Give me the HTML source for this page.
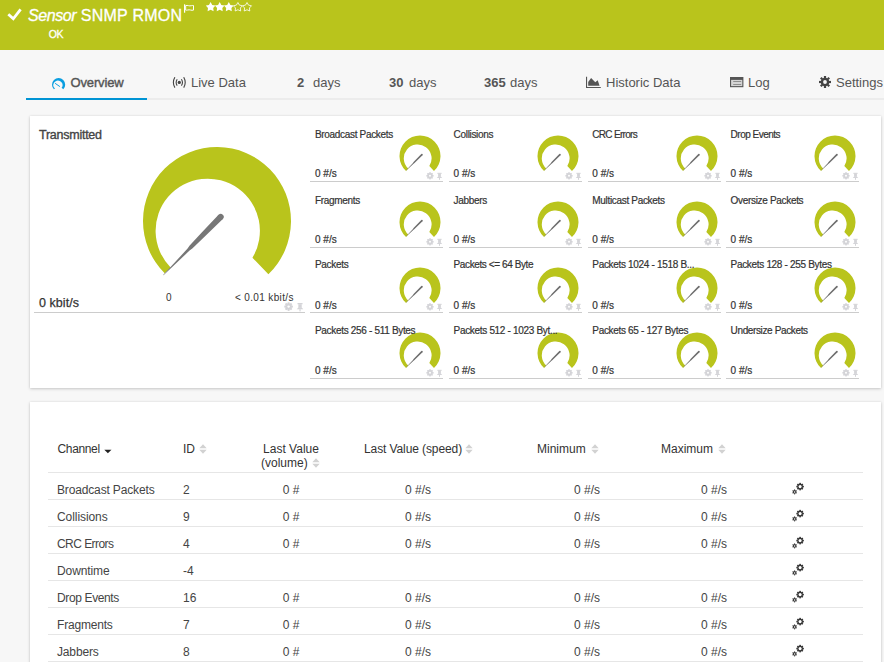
<!DOCTYPE html>
<html><head><meta charset="utf-8"><style>
*{margin:0;padding:0;box-sizing:border-box}
html,body{width:884px;height:662px;overflow:hidden;background:#f7f7f7;font-family:"Liberation Sans",sans-serif;position:relative}
.a{position:absolute;white-space:nowrap}
#hdr{position:absolute;left:0;top:0;width:884px;height:50px;background:#b9c41c}
.tab{position:absolute;top:75px;font-size:13px;color:#555;white-space:nowrap;line-height:16px}
.panel{position:absolute;left:30px;width:851px;background:#fff;box-shadow:0 1px 3px rgba(0,0,0,.18),0 0 2px rgba(0,0,0,.08)}
.tl{position:absolute;z-index:2;font-size:10px;color:#333;-webkit-text-stroke:0.2px #333;white-space:nowrap;line-height:12px;letter-spacing:-0.25px}
.tv{position:absolute;font-size:10px;color:#333;-webkit-text-stroke:0.2px #333;white-space:nowrap;line-height:12px}
.ul{position:absolute;height:1px;background:#ccc}
.ul2{position:absolute;left:48px;width:815px;height:1px;background:#e6e6e6}
.td{position:absolute;font-size:12px;color:#444;white-space:nowrap;line-height:14px}
.td.c{text-align:center}
.td.r{text-align:right}
.th{position:absolute;font-size:12px;color:#333;white-space:nowrap;line-height:14px}
</style></head><body>
<div id="hdr">
 <svg class="a" style="left:7px;top:7px" width="16" height="15" viewBox="0 0 16 15"><path d="M1.3 7.2L6.3 11.8L13.6 2.3" fill="none" stroke="#fff" stroke-width="2.8"/></svg>
 <div class="a" style="left:28px;top:5.7px;font-size:16px;color:#fff;line-height:20px;-webkit-text-stroke:0.3px #fff"><i style="letter-spacing:-0.4px">Sensor</i> <span style="letter-spacing:0.25px">SNMP RMON</span></div>
 <svg class="a" style="left:183px;top:3px" width="13" height="11" viewBox="0 0 13 11"><rect x="1" y="1.3" width="1.2" height="8.4" fill="#fff"/><path d="M2.7 2.6C4.6 1.9 6.4 3.4 8.3 2.7C9.5 2.3 10.5 2.5 10.5 2.5V7.1C8.6 7.8 6.6 6.3 4.7 7C3.6 7.4 2.7 7.1 2.7 7.1Z" fill="none" stroke="#fff" stroke-width="1"/></svg>
 <svg class="a" style="left:206px;top:2.1px" width="47" height="11" viewBox="0 0 47 11"><g transform="translate(0.0 0)"><polygon points="4.60,0.00 6.22,2.88 9.45,3.52 7.22,5.95 7.60,9.23 4.60,7.85 1.60,9.23 1.98,5.95 -0.25,3.52 2.98,2.88" fill="#fff"/></g><g transform="translate(9.1 0)"><polygon points="4.60,0.00 6.22,2.88 9.45,3.52 7.22,5.95 7.60,9.23 4.60,7.85 1.60,9.23 1.98,5.95 -0.25,3.52 2.98,2.88" fill="#fff"/></g><g transform="translate(18.2 0)"><polygon points="4.60,0.00 6.22,2.88 9.45,3.52 7.22,5.95 7.60,9.23 4.60,7.85 1.60,9.23 1.98,5.95 -0.25,3.52 2.98,2.88" fill="#fff"/></g><g transform="translate(27.299999999999997 0)"><polygon points="4.60,0.50 6.10,3.14 9.07,3.75 7.03,5.99 7.36,9.00 4.60,7.75 1.84,9.00 2.17,5.99 0.13,3.75 3.10,3.14" fill="none" stroke="#fff" stroke-width="0.8" stroke-linejoin="round"/></g><g transform="translate(36.4 0)"><polygon points="4.60,0.50 6.10,3.14 9.07,3.75 7.03,5.99 7.36,9.00 4.60,7.75 1.84,9.00 2.17,5.99 0.13,3.75 3.10,3.14" fill="none" stroke="#fff" stroke-width="0.8" stroke-linejoin="round"/></g></svg>
 <div class="a" style="left:48.7px;top:28.3px;font-size:10.5px;color:#fff;-webkit-text-stroke:0.3px #fff;line-height:12px;letter-spacing:-0.3px">OK</div>
</div>
<div class="a" style="left:26px;top:98px;width:858px;height:2px;background:#ececec"></div>
<div class="a" style="left:26px;top:98px;width:121px;height:2px;background:#0094d4"></div>
<svg class="a" style="left:52.3px;top:77.9px" width="14" height="12" viewBox="0 0 14 12"><path d="M1.9 11.3A6.6 6.6 0 1 1 11.3 11.3L9.6 9.8A4.5 4.5 0 1 0 3 10.6Z" fill="#0a9ee0"/><path d="M3.1 5.3L7.9 8.6" stroke="#0a9ee0" stroke-width="1"/></svg>
<div class="tab" style="left:70.5px;-webkit-text-stroke:0.4px #555;letter-spacing:-0.15px">Overview</div>
<svg class="a" style="left:172px;top:76.7px" width="15" height="12" viewBox="0 0 15 12"><circle cx="7.3" cy="5.4" r="1.6" fill="#444"/><path d="M5.2 2.2A5.8 5.8 0 0 0 5.2 8.6M9.4 2.2A5.8 5.8 0 0 1 9.4 8.6M2.9 0.2A10.3 10.3 0 0 0 2.9 10.6M11.7 0.2A10.3 10.3 0 0 1 11.7 10.6" fill="none" stroke="#444" stroke-width="1.1"/></svg>
<div class="tab" style="left:191px">Live Data</div>
<div class="tab" style="left:297px"><b>2</b></div><div class="tab" style="left:313px">days</div>
<div class="tab" style="left:389px"><b>30</b></div><div class="tab" style="left:409px">days</div>
<div class="tab" style="left:484px"><b>365</b></div><div class="tab" style="left:510px">days</div>
<svg class="a" style="left:586px;top:76px" width="15" height="12" viewBox="0 0 15 12"><path d="M0 0.8H1.1V10.9H14.8V11.9H0Z" fill="#555"/><path d="M2.2 9.8L2.2 5.9L5.1 2L9.3 6.3L11.7 4.2L13.6 9.8Z" fill="#555"/></svg>
<div class="tab" style="left:606px">Historic Data</div>
<svg class="a" style="left:730px;top:76.8px" width="14" height="11" viewBox="0 0 14 11"><rect x="0" y="0" width="13.4" height="10.2" fill="#555"/><rect x="1.1" y="2.9" width="11.2" height="6.2" fill="#d4d4d4"/><path d="M3.2 4.2H11.2V5H3.2ZM3.2 6.9H11.2V7.7H3.2Z" fill="#777"/></svg>
<div class="tab" style="left:748px">Log</div>
<svg class="a" style="left:819px;top:76px" width="12" height="12" viewBox="0 0 12 12"><g transform="translate(6 6)" fill="#444"><rect x="-1.1" y="-6" width="2.2" height="2.2" transform="rotate(0)"/><rect x="-1.1" y="-6" width="2.2" height="2.2" transform="rotate(45)"/><rect x="-1.1" y="-6" width="2.2" height="2.2" transform="rotate(90)"/><rect x="-1.1" y="-6" width="2.2" height="2.2" transform="rotate(135)"/><rect x="-1.1" y="-6" width="2.2" height="2.2" transform="rotate(180)"/><rect x="-1.1" y="-6" width="2.2" height="2.2" transform="rotate(225)"/><rect x="-1.1" y="-6" width="2.2" height="2.2" transform="rotate(270)"/><rect x="-1.1" y="-6" width="2.2" height="2.2" transform="rotate(315)"/><circle r="4.3"/><circle r="1.9" fill="#f7f7f7"/></g></svg>
<div class="tab" style="left:836px">Settings</div>

<div class="panel" style="top:116px;height:272px"></div>
<div class="a" style="left:39px;top:127.5px;font-size:12.5px;-webkit-text-stroke:0.35px #444;color:#444;line-height:14px;letter-spacing:-0.25px">Transmitted</div>
<svg style="position:absolute;left:136.60px;top:140.60px;width:160.00px;height:140.00px" viewBox="-80 -80 160 140"><path d="M-52.33 52.33A74.0 74.0 0 1 1 51.40 53.23L35.45 36.71A52.15 52.15 0 1 0 -46.42 46.42Z" fill="#b9c41c"/><g transform="translate(3.7 -4.1) rotate(134.55)"><circle cx="0" cy="0" r="3" fill="#777"/><path d="M0 -3L24.5 -2.5L42.5 -2.0L45.8 -1.4L81.8 -0.25L81.8 0.25L45.8 1.4L42.5 2.0L24.5 2.5L0 3Z" fill="#777"/></g></svg>
<div class="a" style="left:39px;top:294.8px;font-size:12.5px;letter-spacing:0.05px;-webkit-text-stroke:0.25px #333;color:#333;line-height:16px">0 kbit/s</div>
<div class="a" style="left:166px;top:291.6px;font-size:10px;color:#333;line-height:12px">0</div>
<div class="a" style="left:235px;top:291.6px;font-size:10px;color:#333;line-height:12px;letter-spacing:0.35px">&lt; 0.01 kbit/s</div>
<div class="ul" style="left:34px;top:312px;width:271px"></div>
<div class="tl" style="left:315px;top:128.7px;letter-spacing:-0.32px">Broadcast Packets</div><div class="tv" style="left:315px;top:167.5px">0 #/s</div><svg style="position:absolute;left:397.50px;top:134.10px;width:44px;height:40px" viewBox="-22 -22 44 40"><path d="M-13.98 14.99A20.5 20.5 0 1 1 13.98 14.99L9.33 10.01A13.9 13.9 0 1 0 -11.75 12.60Z" fill="#b9c41c"/><g transform="translate(1.9 -1.3) rotate(135.00)"><circle r="0.85" fill="#6e6e6e"/><path d="M0 -0.85L11.10 -0.7L12.21 -0.45L22.20 -0.1L22.20 0.1L12.21 0.45L11.10 0.7L0 0.85Z" fill="#6e6e6e"/></g></svg><div class="ul" style="left:310px;top:181px;width:133.3px"></div><div class="tl" style="left:453.6px;top:128.7px;letter-spacing:-0.32px">Collisions</div><div class="tv" style="left:453.6px;top:167.5px">0 #/s</div><svg style="position:absolute;left:536.20px;top:134.10px;width:44px;height:40px" viewBox="-22 -22 44 40"><path d="M-13.98 14.99A20.5 20.5 0 1 1 13.98 14.99L9.33 10.01A13.9 13.9 0 1 0 -11.75 12.60Z" fill="#b9c41c"/><g transform="translate(1.9 -1.3) rotate(135.00)"><circle r="0.85" fill="#6e6e6e"/><path d="M0 -0.85L11.10 -0.7L12.21 -0.45L22.20 -0.1L22.20 0.1L12.21 0.45L11.10 0.7L0 0.85Z" fill="#6e6e6e"/></g></svg><div class="ul" style="left:449px;top:181px;width:133.3px"></div><div class="tl" style="left:592.3px;top:128.7px;letter-spacing:-0.7px">CRC Errors</div><div class="tv" style="left:592.3px;top:167.5px">0 #/s</div><svg style="position:absolute;left:674.80px;top:134.10px;width:44px;height:40px" viewBox="-22 -22 44 40"><path d="M-13.98 14.99A20.5 20.5 0 1 1 13.98 14.99L9.33 10.01A13.9 13.9 0 1 0 -11.75 12.60Z" fill="#b9c41c"/><g transform="translate(1.9 -1.3) rotate(135.00)"><circle r="0.85" fill="#6e6e6e"/><path d="M0 -0.85L11.10 -0.7L12.21 -0.45L22.20 -0.1L22.20 0.1L12.21 0.45L11.10 0.7L0 0.85Z" fill="#6e6e6e"/></g></svg><div class="ul" style="left:588px;top:181px;width:133.3px"></div><div class="tl" style="left:730.6px;top:128.7px;letter-spacing:-0.5px">Drop Events</div><div class="tv" style="left:730.6px;top:167.5px">0 #/s</div><svg style="position:absolute;left:812.80px;top:134.10px;width:44px;height:40px" viewBox="-22 -22 44 40"><path d="M-13.98 14.99A20.5 20.5 0 1 1 13.98 14.99L9.33 10.01A13.9 13.9 0 1 0 -11.75 12.60Z" fill="#b9c41c"/><g transform="translate(1.9 -1.3) rotate(135.00)"><circle r="0.85" fill="#6e6e6e"/><path d="M0 -0.85L11.10 -0.7L12.21 -0.45L22.20 -0.1L22.20 0.1L12.21 0.45L11.10 0.7L0 0.85Z" fill="#6e6e6e"/></g></svg><div class="ul" style="left:726px;top:181px;width:133.3px"></div><div class="tl" style="left:315px;top:194.5px;letter-spacing:-0.32px">Fragments</div><div class="tv" style="left:315px;top:233.8px">0 #/s</div><svg style="position:absolute;left:397.50px;top:200.10px;width:44px;height:40px" viewBox="-22 -22 44 40"><path d="M-13.98 14.99A20.5 20.5 0 1 1 13.98 14.99L9.33 10.01A13.9 13.9 0 1 0 -11.75 12.60Z" fill="#b9c41c"/><g transform="translate(1.9 -1.3) rotate(135.00)"><circle r="0.85" fill="#6e6e6e"/><path d="M0 -0.85L11.10 -0.7L12.21 -0.45L22.20 -0.1L22.20 0.1L12.21 0.45L11.10 0.7L0 0.85Z" fill="#6e6e6e"/></g></svg><div class="ul" style="left:310px;top:247px;width:133.3px"></div><div class="tl" style="left:453.6px;top:194.5px;letter-spacing:-0.32px">Jabbers</div><div class="tv" style="left:453.6px;top:233.8px">0 #/s</div><svg style="position:absolute;left:536.20px;top:200.10px;width:44px;height:40px" viewBox="-22 -22 44 40"><path d="M-13.98 14.99A20.5 20.5 0 1 1 13.98 14.99L9.33 10.01A13.9 13.9 0 1 0 -11.75 12.60Z" fill="#b9c41c"/><g transform="translate(1.9 -1.3) rotate(135.00)"><circle r="0.85" fill="#6e6e6e"/><path d="M0 -0.85L11.10 -0.7L12.21 -0.45L22.20 -0.1L22.20 0.1L12.21 0.45L11.10 0.7L0 0.85Z" fill="#6e6e6e"/></g></svg><div class="ul" style="left:449px;top:247px;width:133.3px"></div><div class="tl" style="left:592.3px;top:194.5px;letter-spacing:-0.32px">Multicast Packets</div><div class="tv" style="left:592.3px;top:233.8px">0 #/s</div><svg style="position:absolute;left:674.80px;top:200.10px;width:44px;height:40px" viewBox="-22 -22 44 40"><path d="M-13.98 14.99A20.5 20.5 0 1 1 13.98 14.99L9.33 10.01A13.9 13.9 0 1 0 -11.75 12.60Z" fill="#b9c41c"/><g transform="translate(1.9 -1.3) rotate(135.00)"><circle r="0.85" fill="#6e6e6e"/><path d="M0 -0.85L11.10 -0.7L12.21 -0.45L22.20 -0.1L22.20 0.1L12.21 0.45L11.10 0.7L0 0.85Z" fill="#6e6e6e"/></g></svg><div class="ul" style="left:588px;top:247px;width:133.3px"></div><div class="tl" style="left:730.6px;top:194.5px;letter-spacing:-0.32px">Oversize Packets</div><div class="tv" style="left:730.6px;top:233.8px">0 #/s</div><svg style="position:absolute;left:812.80px;top:200.10px;width:44px;height:40px" viewBox="-22 -22 44 40"><path d="M-13.98 14.99A20.5 20.5 0 1 1 13.98 14.99L9.33 10.01A13.9 13.9 0 1 0 -11.75 12.60Z" fill="#b9c41c"/><g transform="translate(1.9 -1.3) rotate(135.00)"><circle r="0.85" fill="#6e6e6e"/><path d="M0 -0.85L11.10 -0.7L12.21 -0.45L22.20 -0.1L22.20 0.1L12.21 0.45L11.10 0.7L0 0.85Z" fill="#6e6e6e"/></g></svg><div class="ul" style="left:726px;top:247px;width:133.3px"></div><div class="tl" style="left:315px;top:259.3px;letter-spacing:-0.32px">Packets</div><div class="tv" style="left:315px;top:299.9px">0 #/s</div><svg style="position:absolute;left:397.50px;top:266.00px;width:44px;height:40px" viewBox="-22 -22 44 40"><path d="M-13.98 14.99A20.5 20.5 0 1 1 13.98 14.99L9.33 10.01A13.9 13.9 0 1 0 -11.75 12.60Z" fill="#b9c41c"/><g transform="translate(1.9 -1.3) rotate(135.00)"><circle r="0.85" fill="#6e6e6e"/><path d="M0 -0.85L11.10 -0.7L12.21 -0.45L22.20 -0.1L22.20 0.1L12.21 0.45L11.10 0.7L0 0.85Z" fill="#6e6e6e"/></g></svg><div class="ul" style="left:310px;top:312px;width:133.3px"></div><div class="tl" style="left:453.6px;top:259.3px;letter-spacing:-0.4px">Packets &lt;= 64 Byte</div><div class="tv" style="left:453.6px;top:299.9px">0 #/s</div><svg style="position:absolute;left:536.20px;top:266.00px;width:44px;height:40px" viewBox="-22 -22 44 40"><path d="M-13.98 14.99A20.5 20.5 0 1 1 13.98 14.99L9.33 10.01A13.9 13.9 0 1 0 -11.75 12.60Z" fill="#b9c41c"/><g transform="translate(1.9 -1.3) rotate(135.00)"><circle r="0.85" fill="#6e6e6e"/><path d="M0 -0.85L11.10 -0.7L12.21 -0.45L22.20 -0.1L22.20 0.1L12.21 0.45L11.10 0.7L0 0.85Z" fill="#6e6e6e"/></g></svg><div class="ul" style="left:449px;top:312px;width:133.3px"></div><div class="tl" style="left:592.3px;top:259.3px;letter-spacing:-0.32px">Packets 1024 - 1518 B...</div><div class="tv" style="left:592.3px;top:299.9px">0 #/s</div><svg style="position:absolute;left:674.80px;top:266.00px;width:44px;height:40px" viewBox="-22 -22 44 40"><path d="M-13.98 14.99A20.5 20.5 0 1 1 13.98 14.99L9.33 10.01A13.9 13.9 0 1 0 -11.75 12.60Z" fill="#b9c41c"/><g transform="translate(1.9 -1.3) rotate(135.00)"><circle r="0.85" fill="#6e6e6e"/><path d="M0 -0.85L11.10 -0.7L12.21 -0.45L22.20 -0.1L22.20 0.1L12.21 0.45L11.10 0.7L0 0.85Z" fill="#6e6e6e"/></g></svg><div class="ul" style="left:588px;top:312px;width:133.3px"></div><div class="tl" style="left:730.6px;top:259.3px;letter-spacing:-0.32px">Packets 128 - 255 Bytes</div><div class="tv" style="left:730.6px;top:299.9px">0 #/s</div><svg style="position:absolute;left:812.80px;top:266.00px;width:44px;height:40px" viewBox="-22 -22 44 40"><path d="M-13.98 14.99A20.5 20.5 0 1 1 13.98 14.99L9.33 10.01A13.9 13.9 0 1 0 -11.75 12.60Z" fill="#b9c41c"/><g transform="translate(1.9 -1.3) rotate(135.00)"><circle r="0.85" fill="#6e6e6e"/><path d="M0 -0.85L11.10 -0.7L12.21 -0.45L22.20 -0.1L22.20 0.1L12.21 0.45L11.10 0.7L0 0.85Z" fill="#6e6e6e"/></g></svg><div class="ul" style="left:726px;top:312px;width:133.3px"></div><div class="tl" style="left:315px;top:325px;letter-spacing:-0.32px">Packets 256 - 511 Bytes</div><div class="tv" style="left:315px;top:364.5px">0 #/s</div><svg style="position:absolute;left:397.50px;top:331.10px;width:44px;height:40px" viewBox="-22 -22 44 40"><path d="M-13.98 14.99A20.5 20.5 0 1 1 13.98 14.99L9.33 10.01A13.9 13.9 0 1 0 -11.75 12.60Z" fill="#b9c41c"/><g transform="translate(1.9 -1.3) rotate(135.00)"><circle r="0.85" fill="#6e6e6e"/><path d="M0 -0.85L11.10 -0.7L12.21 -0.45L22.20 -0.1L22.20 0.1L12.21 0.45L11.10 0.7L0 0.85Z" fill="#6e6e6e"/></g></svg><div class="ul" style="left:310px;top:378px;width:133.3px"></div><div class="tl" style="left:453.6px;top:325px;letter-spacing:-0.32px">Packets 512 - 1023 Byt...</div><div class="tv" style="left:453.6px;top:364.5px">0 #/s</div><svg style="position:absolute;left:536.20px;top:331.10px;width:44px;height:40px" viewBox="-22 -22 44 40"><path d="M-13.98 14.99A20.5 20.5 0 1 1 13.98 14.99L9.33 10.01A13.9 13.9 0 1 0 -11.75 12.60Z" fill="#b9c41c"/><g transform="translate(1.9 -1.3) rotate(135.00)"><circle r="0.85" fill="#6e6e6e"/><path d="M0 -0.85L11.10 -0.7L12.21 -0.45L22.20 -0.1L22.20 0.1L12.21 0.45L11.10 0.7L0 0.85Z" fill="#6e6e6e"/></g></svg><div class="ul" style="left:449px;top:378px;width:133.3px"></div><div class="tl" style="left:592.3px;top:325px;letter-spacing:-0.32px">Packets 65 - 127 Bytes</div><div class="tv" style="left:592.3px;top:364.5px">0 #/s</div><svg style="position:absolute;left:674.80px;top:331.10px;width:44px;height:40px" viewBox="-22 -22 44 40"><path d="M-13.98 14.99A20.5 20.5 0 1 1 13.98 14.99L9.33 10.01A13.9 13.9 0 1 0 -11.75 12.60Z" fill="#b9c41c"/><g transform="translate(1.9 -1.3) rotate(135.00)"><circle r="0.85" fill="#6e6e6e"/><path d="M0 -0.85L11.10 -0.7L12.21 -0.45L22.20 -0.1L22.20 0.1L12.21 0.45L11.10 0.7L0 0.85Z" fill="#6e6e6e"/></g></svg><div class="ul" style="left:588px;top:378px;width:133.3px"></div><div class="tl" style="left:730.6px;top:325px;letter-spacing:-0.37px">Undersize Packets</div><div class="tv" style="left:730.6px;top:364.5px">0 #/s</div><svg style="position:absolute;left:812.80px;top:331.10px;width:44px;height:40px" viewBox="-22 -22 44 40"><path d="M-13.98 14.99A20.5 20.5 0 1 1 13.98 14.99L9.33 10.01A13.9 13.9 0 1 0 -11.75 12.60Z" fill="#b9c41c"/><g transform="translate(1.9 -1.3) rotate(135.00)"><circle r="0.85" fill="#6e6e6e"/><path d="M0 -0.85L11.10 -0.7L12.21 -0.45L22.20 -0.1L22.20 0.1L12.21 0.45L11.10 0.7L0 0.85Z" fill="#6e6e6e"/></g></svg><div class="ul" style="left:726px;top:378px;width:133.3px"></div>
<svg class="a" style="left:0;top:0" width="884" height="400"><g transform="translate(430 175.8) scale(1.0)" fill="#d4d4d8"><rect x="-0.8" y="-3.6" width="1.6" height="1.6" transform="rotate(0)"/><rect x="-0.8" y="-3.6" width="1.6" height="1.6" transform="rotate(45)"/><rect x="-0.8" y="-3.6" width="1.6" height="1.6" transform="rotate(90)"/><rect x="-0.8" y="-3.6" width="1.6" height="1.6" transform="rotate(135)"/><rect x="-0.8" y="-3.6" width="1.6" height="1.6" transform="rotate(180)"/><rect x="-0.8" y="-3.6" width="1.6" height="1.6" transform="rotate(225)"/><rect x="-0.8" y="-3.6" width="1.6" height="1.6" transform="rotate(270)"/><rect x="-0.8" y="-3.6" width="1.6" height="1.6" transform="rotate(315)"/><circle r="2.7"/><circle r="1" fill="#fff"/></g><g fill="#d4d4d8" transform="translate(436.8 172.8) scale(1.0)"><rect x="0.6" y="0" width="4.2" height="1.1"/><rect x="1.3" y="1" width="2.8" height="3"/><path d="M0 5.2L1.3 3.8H4.1L5.4 5.2Z"/><rect x="2.2" y="5.1" width="1" height="1.9"/></g><g transform="translate(569 175.8) scale(1.0)" fill="#d4d4d8"><rect x="-0.8" y="-3.6" width="1.6" height="1.6" transform="rotate(0)"/><rect x="-0.8" y="-3.6" width="1.6" height="1.6" transform="rotate(45)"/><rect x="-0.8" y="-3.6" width="1.6" height="1.6" transform="rotate(90)"/><rect x="-0.8" y="-3.6" width="1.6" height="1.6" transform="rotate(135)"/><rect x="-0.8" y="-3.6" width="1.6" height="1.6" transform="rotate(180)"/><rect x="-0.8" y="-3.6" width="1.6" height="1.6" transform="rotate(225)"/><rect x="-0.8" y="-3.6" width="1.6" height="1.6" transform="rotate(270)"/><rect x="-0.8" y="-3.6" width="1.6" height="1.6" transform="rotate(315)"/><circle r="2.7"/><circle r="1" fill="#fff"/></g><g fill="#d4d4d8" transform="translate(575.8 172.8) scale(1.0)"><rect x="0.6" y="0" width="4.2" height="1.1"/><rect x="1.3" y="1" width="2.8" height="3"/><path d="M0 5.2L1.3 3.8H4.1L5.4 5.2Z"/><rect x="2.2" y="5.1" width="1" height="1.9"/></g><g transform="translate(708 175.8) scale(1.0)" fill="#d4d4d8"><rect x="-0.8" y="-3.6" width="1.6" height="1.6" transform="rotate(0)"/><rect x="-0.8" y="-3.6" width="1.6" height="1.6" transform="rotate(45)"/><rect x="-0.8" y="-3.6" width="1.6" height="1.6" transform="rotate(90)"/><rect x="-0.8" y="-3.6" width="1.6" height="1.6" transform="rotate(135)"/><rect x="-0.8" y="-3.6" width="1.6" height="1.6" transform="rotate(180)"/><rect x="-0.8" y="-3.6" width="1.6" height="1.6" transform="rotate(225)"/><rect x="-0.8" y="-3.6" width="1.6" height="1.6" transform="rotate(270)"/><rect x="-0.8" y="-3.6" width="1.6" height="1.6" transform="rotate(315)"/><circle r="2.7"/><circle r="1" fill="#fff"/></g><g fill="#d4d4d8" transform="translate(714.8 172.8) scale(1.0)"><rect x="0.6" y="0" width="4.2" height="1.1"/><rect x="1.3" y="1" width="2.8" height="3"/><path d="M0 5.2L1.3 3.8H4.1L5.4 5.2Z"/><rect x="2.2" y="5.1" width="1" height="1.9"/></g><g transform="translate(846 175.8) scale(1.0)" fill="#d4d4d8"><rect x="-0.8" y="-3.6" width="1.6" height="1.6" transform="rotate(0)"/><rect x="-0.8" y="-3.6" width="1.6" height="1.6" transform="rotate(45)"/><rect x="-0.8" y="-3.6" width="1.6" height="1.6" transform="rotate(90)"/><rect x="-0.8" y="-3.6" width="1.6" height="1.6" transform="rotate(135)"/><rect x="-0.8" y="-3.6" width="1.6" height="1.6" transform="rotate(180)"/><rect x="-0.8" y="-3.6" width="1.6" height="1.6" transform="rotate(225)"/><rect x="-0.8" y="-3.6" width="1.6" height="1.6" transform="rotate(270)"/><rect x="-0.8" y="-3.6" width="1.6" height="1.6" transform="rotate(315)"/><circle r="2.7"/><circle r="1" fill="#fff"/></g><g fill="#d4d4d8" transform="translate(852.8 172.8) scale(1.0)"><rect x="0.6" y="0" width="4.2" height="1.1"/><rect x="1.3" y="1" width="2.8" height="3"/><path d="M0 5.2L1.3 3.8H4.1L5.4 5.2Z"/><rect x="2.2" y="5.1" width="1" height="1.9"/></g><g transform="translate(430 241.8) scale(1.0)" fill="#d4d4d8"><rect x="-0.8" y="-3.6" width="1.6" height="1.6" transform="rotate(0)"/><rect x="-0.8" y="-3.6" width="1.6" height="1.6" transform="rotate(45)"/><rect x="-0.8" y="-3.6" width="1.6" height="1.6" transform="rotate(90)"/><rect x="-0.8" y="-3.6" width="1.6" height="1.6" transform="rotate(135)"/><rect x="-0.8" y="-3.6" width="1.6" height="1.6" transform="rotate(180)"/><rect x="-0.8" y="-3.6" width="1.6" height="1.6" transform="rotate(225)"/><rect x="-0.8" y="-3.6" width="1.6" height="1.6" transform="rotate(270)"/><rect x="-0.8" y="-3.6" width="1.6" height="1.6" transform="rotate(315)"/><circle r="2.7"/><circle r="1" fill="#fff"/></g><g fill="#d4d4d8" transform="translate(436.8 238.8) scale(1.0)"><rect x="0.6" y="0" width="4.2" height="1.1"/><rect x="1.3" y="1" width="2.8" height="3"/><path d="M0 5.2L1.3 3.8H4.1L5.4 5.2Z"/><rect x="2.2" y="5.1" width="1" height="1.9"/></g><g transform="translate(569 241.8) scale(1.0)" fill="#d4d4d8"><rect x="-0.8" y="-3.6" width="1.6" height="1.6" transform="rotate(0)"/><rect x="-0.8" y="-3.6" width="1.6" height="1.6" transform="rotate(45)"/><rect x="-0.8" y="-3.6" width="1.6" height="1.6" transform="rotate(90)"/><rect x="-0.8" y="-3.6" width="1.6" height="1.6" transform="rotate(135)"/><rect x="-0.8" y="-3.6" width="1.6" height="1.6" transform="rotate(180)"/><rect x="-0.8" y="-3.6" width="1.6" height="1.6" transform="rotate(225)"/><rect x="-0.8" y="-3.6" width="1.6" height="1.6" transform="rotate(270)"/><rect x="-0.8" y="-3.6" width="1.6" height="1.6" transform="rotate(315)"/><circle r="2.7"/><circle r="1" fill="#fff"/></g><g fill="#d4d4d8" transform="translate(575.8 238.8) scale(1.0)"><rect x="0.6" y="0" width="4.2" height="1.1"/><rect x="1.3" y="1" width="2.8" height="3"/><path d="M0 5.2L1.3 3.8H4.1L5.4 5.2Z"/><rect x="2.2" y="5.1" width="1" height="1.9"/></g><g transform="translate(708 241.8) scale(1.0)" fill="#d4d4d8"><rect x="-0.8" y="-3.6" width="1.6" height="1.6" transform="rotate(0)"/><rect x="-0.8" y="-3.6" width="1.6" height="1.6" transform="rotate(45)"/><rect x="-0.8" y="-3.6" width="1.6" height="1.6" transform="rotate(90)"/><rect x="-0.8" y="-3.6" width="1.6" height="1.6" transform="rotate(135)"/><rect x="-0.8" y="-3.6" width="1.6" height="1.6" transform="rotate(180)"/><rect x="-0.8" y="-3.6" width="1.6" height="1.6" transform="rotate(225)"/><rect x="-0.8" y="-3.6" width="1.6" height="1.6" transform="rotate(270)"/><rect x="-0.8" y="-3.6" width="1.6" height="1.6" transform="rotate(315)"/><circle r="2.7"/><circle r="1" fill="#fff"/></g><g fill="#d4d4d8" transform="translate(714.8 238.8) scale(1.0)"><rect x="0.6" y="0" width="4.2" height="1.1"/><rect x="1.3" y="1" width="2.8" height="3"/><path d="M0 5.2L1.3 3.8H4.1L5.4 5.2Z"/><rect x="2.2" y="5.1" width="1" height="1.9"/></g><g transform="translate(846 241.8) scale(1.0)" fill="#d4d4d8"><rect x="-0.8" y="-3.6" width="1.6" height="1.6" transform="rotate(0)"/><rect x="-0.8" y="-3.6" width="1.6" height="1.6" transform="rotate(45)"/><rect x="-0.8" y="-3.6" width="1.6" height="1.6" transform="rotate(90)"/><rect x="-0.8" y="-3.6" width="1.6" height="1.6" transform="rotate(135)"/><rect x="-0.8" y="-3.6" width="1.6" height="1.6" transform="rotate(180)"/><rect x="-0.8" y="-3.6" width="1.6" height="1.6" transform="rotate(225)"/><rect x="-0.8" y="-3.6" width="1.6" height="1.6" transform="rotate(270)"/><rect x="-0.8" y="-3.6" width="1.6" height="1.6" transform="rotate(315)"/><circle r="2.7"/><circle r="1" fill="#fff"/></g><g fill="#d4d4d8" transform="translate(852.8 238.8) scale(1.0)"><rect x="0.6" y="0" width="4.2" height="1.1"/><rect x="1.3" y="1" width="2.8" height="3"/><path d="M0 5.2L1.3 3.8H4.1L5.4 5.2Z"/><rect x="2.2" y="5.1" width="1" height="1.9"/></g><g transform="translate(430 306.8) scale(1.0)" fill="#d4d4d8"><rect x="-0.8" y="-3.6" width="1.6" height="1.6" transform="rotate(0)"/><rect x="-0.8" y="-3.6" width="1.6" height="1.6" transform="rotate(45)"/><rect x="-0.8" y="-3.6" width="1.6" height="1.6" transform="rotate(90)"/><rect x="-0.8" y="-3.6" width="1.6" height="1.6" transform="rotate(135)"/><rect x="-0.8" y="-3.6" width="1.6" height="1.6" transform="rotate(180)"/><rect x="-0.8" y="-3.6" width="1.6" height="1.6" transform="rotate(225)"/><rect x="-0.8" y="-3.6" width="1.6" height="1.6" transform="rotate(270)"/><rect x="-0.8" y="-3.6" width="1.6" height="1.6" transform="rotate(315)"/><circle r="2.7"/><circle r="1" fill="#fff"/></g><g fill="#d4d4d8" transform="translate(436.8 303.8) scale(1.0)"><rect x="0.6" y="0" width="4.2" height="1.1"/><rect x="1.3" y="1" width="2.8" height="3"/><path d="M0 5.2L1.3 3.8H4.1L5.4 5.2Z"/><rect x="2.2" y="5.1" width="1" height="1.9"/></g><g transform="translate(569 306.8) scale(1.0)" fill="#d4d4d8"><rect x="-0.8" y="-3.6" width="1.6" height="1.6" transform="rotate(0)"/><rect x="-0.8" y="-3.6" width="1.6" height="1.6" transform="rotate(45)"/><rect x="-0.8" y="-3.6" width="1.6" height="1.6" transform="rotate(90)"/><rect x="-0.8" y="-3.6" width="1.6" height="1.6" transform="rotate(135)"/><rect x="-0.8" y="-3.6" width="1.6" height="1.6" transform="rotate(180)"/><rect x="-0.8" y="-3.6" width="1.6" height="1.6" transform="rotate(225)"/><rect x="-0.8" y="-3.6" width="1.6" height="1.6" transform="rotate(270)"/><rect x="-0.8" y="-3.6" width="1.6" height="1.6" transform="rotate(315)"/><circle r="2.7"/><circle r="1" fill="#fff"/></g><g fill="#d4d4d8" transform="translate(575.8 303.8) scale(1.0)"><rect x="0.6" y="0" width="4.2" height="1.1"/><rect x="1.3" y="1" width="2.8" height="3"/><path d="M0 5.2L1.3 3.8H4.1L5.4 5.2Z"/><rect x="2.2" y="5.1" width="1" height="1.9"/></g><g transform="translate(708 306.8) scale(1.0)" fill="#d4d4d8"><rect x="-0.8" y="-3.6" width="1.6" height="1.6" transform="rotate(0)"/><rect x="-0.8" y="-3.6" width="1.6" height="1.6" transform="rotate(45)"/><rect x="-0.8" y="-3.6" width="1.6" height="1.6" transform="rotate(90)"/><rect x="-0.8" y="-3.6" width="1.6" height="1.6" transform="rotate(135)"/><rect x="-0.8" y="-3.6" width="1.6" height="1.6" transform="rotate(180)"/><rect x="-0.8" y="-3.6" width="1.6" height="1.6" transform="rotate(225)"/><rect x="-0.8" y="-3.6" width="1.6" height="1.6" transform="rotate(270)"/><rect x="-0.8" y="-3.6" width="1.6" height="1.6" transform="rotate(315)"/><circle r="2.7"/><circle r="1" fill="#fff"/></g><g fill="#d4d4d8" transform="translate(714.8 303.8) scale(1.0)"><rect x="0.6" y="0" width="4.2" height="1.1"/><rect x="1.3" y="1" width="2.8" height="3"/><path d="M0 5.2L1.3 3.8H4.1L5.4 5.2Z"/><rect x="2.2" y="5.1" width="1" height="1.9"/></g><g transform="translate(846 306.8) scale(1.0)" fill="#d4d4d8"><rect x="-0.8" y="-3.6" width="1.6" height="1.6" transform="rotate(0)"/><rect x="-0.8" y="-3.6" width="1.6" height="1.6" transform="rotate(45)"/><rect x="-0.8" y="-3.6" width="1.6" height="1.6" transform="rotate(90)"/><rect x="-0.8" y="-3.6" width="1.6" height="1.6" transform="rotate(135)"/><rect x="-0.8" y="-3.6" width="1.6" height="1.6" transform="rotate(180)"/><rect x="-0.8" y="-3.6" width="1.6" height="1.6" transform="rotate(225)"/><rect x="-0.8" y="-3.6" width="1.6" height="1.6" transform="rotate(270)"/><rect x="-0.8" y="-3.6" width="1.6" height="1.6" transform="rotate(315)"/><circle r="2.7"/><circle r="1" fill="#fff"/></g><g fill="#d4d4d8" transform="translate(852.8 303.8) scale(1.0)"><rect x="0.6" y="0" width="4.2" height="1.1"/><rect x="1.3" y="1" width="2.8" height="3"/><path d="M0 5.2L1.3 3.8H4.1L5.4 5.2Z"/><rect x="2.2" y="5.1" width="1" height="1.9"/></g><g transform="translate(430 372.8) scale(1.0)" fill="#d4d4d8"><rect x="-0.8" y="-3.6" width="1.6" height="1.6" transform="rotate(0)"/><rect x="-0.8" y="-3.6" width="1.6" height="1.6" transform="rotate(45)"/><rect x="-0.8" y="-3.6" width="1.6" height="1.6" transform="rotate(90)"/><rect x="-0.8" y="-3.6" width="1.6" height="1.6" transform="rotate(135)"/><rect x="-0.8" y="-3.6" width="1.6" height="1.6" transform="rotate(180)"/><rect x="-0.8" y="-3.6" width="1.6" height="1.6" transform="rotate(225)"/><rect x="-0.8" y="-3.6" width="1.6" height="1.6" transform="rotate(270)"/><rect x="-0.8" y="-3.6" width="1.6" height="1.6" transform="rotate(315)"/><circle r="2.7"/><circle r="1" fill="#fff"/></g><g fill="#d4d4d8" transform="translate(436.8 369.8) scale(1.0)"><rect x="0.6" y="0" width="4.2" height="1.1"/><rect x="1.3" y="1" width="2.8" height="3"/><path d="M0 5.2L1.3 3.8H4.1L5.4 5.2Z"/><rect x="2.2" y="5.1" width="1" height="1.9"/></g><g transform="translate(569 372.8) scale(1.0)" fill="#d4d4d8"><rect x="-0.8" y="-3.6" width="1.6" height="1.6" transform="rotate(0)"/><rect x="-0.8" y="-3.6" width="1.6" height="1.6" transform="rotate(45)"/><rect x="-0.8" y="-3.6" width="1.6" height="1.6" transform="rotate(90)"/><rect x="-0.8" y="-3.6" width="1.6" height="1.6" transform="rotate(135)"/><rect x="-0.8" y="-3.6" width="1.6" height="1.6" transform="rotate(180)"/><rect x="-0.8" y="-3.6" width="1.6" height="1.6" transform="rotate(225)"/><rect x="-0.8" y="-3.6" width="1.6" height="1.6" transform="rotate(270)"/><rect x="-0.8" y="-3.6" width="1.6" height="1.6" transform="rotate(315)"/><circle r="2.7"/><circle r="1" fill="#fff"/></g><g fill="#d4d4d8" transform="translate(575.8 369.8) scale(1.0)"><rect x="0.6" y="0" width="4.2" height="1.1"/><rect x="1.3" y="1" width="2.8" height="3"/><path d="M0 5.2L1.3 3.8H4.1L5.4 5.2Z"/><rect x="2.2" y="5.1" width="1" height="1.9"/></g><g transform="translate(708 372.8) scale(1.0)" fill="#d4d4d8"><rect x="-0.8" y="-3.6" width="1.6" height="1.6" transform="rotate(0)"/><rect x="-0.8" y="-3.6" width="1.6" height="1.6" transform="rotate(45)"/><rect x="-0.8" y="-3.6" width="1.6" height="1.6" transform="rotate(90)"/><rect x="-0.8" y="-3.6" width="1.6" height="1.6" transform="rotate(135)"/><rect x="-0.8" y="-3.6" width="1.6" height="1.6" transform="rotate(180)"/><rect x="-0.8" y="-3.6" width="1.6" height="1.6" transform="rotate(225)"/><rect x="-0.8" y="-3.6" width="1.6" height="1.6" transform="rotate(270)"/><rect x="-0.8" y="-3.6" width="1.6" height="1.6" transform="rotate(315)"/><circle r="2.7"/><circle r="1" fill="#fff"/></g><g fill="#d4d4d8" transform="translate(714.8 369.8) scale(1.0)"><rect x="0.6" y="0" width="4.2" height="1.1"/><rect x="1.3" y="1" width="2.8" height="3"/><path d="M0 5.2L1.3 3.8H4.1L5.4 5.2Z"/><rect x="2.2" y="5.1" width="1" height="1.9"/></g><g transform="translate(846 372.8) scale(1.0)" fill="#d4d4d8"><rect x="-0.8" y="-3.6" width="1.6" height="1.6" transform="rotate(0)"/><rect x="-0.8" y="-3.6" width="1.6" height="1.6" transform="rotate(45)"/><rect x="-0.8" y="-3.6" width="1.6" height="1.6" transform="rotate(90)"/><rect x="-0.8" y="-3.6" width="1.6" height="1.6" transform="rotate(135)"/><rect x="-0.8" y="-3.6" width="1.6" height="1.6" transform="rotate(180)"/><rect x="-0.8" y="-3.6" width="1.6" height="1.6" transform="rotate(225)"/><rect x="-0.8" y="-3.6" width="1.6" height="1.6" transform="rotate(270)"/><rect x="-0.8" y="-3.6" width="1.6" height="1.6" transform="rotate(315)"/><circle r="2.7"/><circle r="1" fill="#fff"/></g><g fill="#d4d4d8" transform="translate(852.8 369.8) scale(1.0)"><rect x="0.6" y="0" width="4.2" height="1.1"/><rect x="1.3" y="1" width="2.8" height="3"/><path d="M0 5.2L1.3 3.8H4.1L5.4 5.2Z"/><rect x="2.2" y="5.1" width="1" height="1.9"/></g><g transform="translate(288.6 306.6) scale(1.2)" fill="#d4d4d8"><rect x="-0.8" y="-3.6" width="1.6" height="1.6" transform="rotate(0)"/><rect x="-0.8" y="-3.6" width="1.6" height="1.6" transform="rotate(45)"/><rect x="-0.8" y="-3.6" width="1.6" height="1.6" transform="rotate(90)"/><rect x="-0.8" y="-3.6" width="1.6" height="1.6" transform="rotate(135)"/><rect x="-0.8" y="-3.6" width="1.6" height="1.6" transform="rotate(180)"/><rect x="-0.8" y="-3.6" width="1.6" height="1.6" transform="rotate(225)"/><rect x="-0.8" y="-3.6" width="1.6" height="1.6" transform="rotate(270)"/><rect x="-0.8" y="-3.6" width="1.6" height="1.6" transform="rotate(315)"/><circle r="2.7"/><circle r="1" fill="#fff"/></g><g fill="#d4d4d8" transform="translate(296.8 303.0) scale(1.2)"><rect x="0.6" y="0" width="4.2" height="1.1"/><rect x="1.3" y="1" width="2.8" height="3"/><path d="M0 5.2L1.3 3.8H4.1L5.4 5.2Z"/><rect x="2.2" y="5.1" width="1" height="1.9"/></g></svg>

<div class="panel" style="top:402px;height:300px"></div>
<div class="th" style="left:57.5px;top:442.3px;letter-spacing:-0.35px">Channel</div>
<svg class="a" style="left:104px;top:449px" width="8" height="5" viewBox="0 0 8 5"><path d="M0.3 0.8H7.5L3.9 4.2Z" fill="#222"/></svg>
<div class="th" style="left:183px;top:442.3px">ID</div><svg class="a" style="left:198.5px;top:444px" width="8" height="10" viewBox="0 0 8 10"><path d="M0.3 4.2L4 0.3L7.7 4.2Z M0.3 5.8L4 9.7L7.7 5.8Z" fill="#d2d2d2"/></svg>
<div class="th" style="left:241px;width:100px;top:442.3px;text-align:center;line-height:14px">Last Value<br>(volume)&nbsp;&nbsp;&nbsp;&nbsp;</div><svg class="a" style="left:312px;top:458px" width="8" height="10" viewBox="0 0 8 10"><path d="M0.3 4.2L4 0.3L7.7 4.2Z M0.3 5.8L4 9.7L7.7 5.8Z" fill="#d2d2d2"/></svg>
<div class="th" style="left:364px;top:442.3px;letter-spacing:-0.1px">Last Value (speed)</div><svg class="a" style="left:465px;top:444px" width="8" height="10" viewBox="0 0 8 10"><path d="M0.3 4.2L4 0.3L7.7 4.2Z M0.3 5.8L4 9.7L7.7 5.8Z" fill="#d2d2d2"/></svg>
<div class="th" style="left:537px;top:442.3px">Minimum</div><svg class="a" style="left:590.5px;top:444px" width="8" height="10" viewBox="0 0 8 10"><path d="M0.3 4.2L4 0.3L7.7 4.2Z M0.3 5.8L4 9.7L7.7 5.8Z" fill="#d2d2d2"/></svg>
<div class="th" style="left:661px;top:442.3px">Maximum</div><svg class="a" style="left:718px;top:444px" width="8" height="10" viewBox="0 0 8 10"><path d="M0.3 4.2L4 0.3L7.7 4.2Z M0.3 5.8L4 9.7L7.7 5.8Z" fill="#d2d2d2"/></svg>
<div class="ul2" style="top:472.4px"></div>
<div class="ul2" style="top:499.2px"></div><div class="td" style="left:57px;top:482.9px;letter-spacing:-0.15px">Broadcast Packets</div><div class="td" style="left:183px;top:482.9px">2</div><div class="td c" style="left:241px;width:100px;top:482.9px">0 #</div><div class="td c" style="left:368px;width:100px;top:482.9px">0 #/s</div><div class="td r" style="left:450px;width:150px;top:482.9px">0 #/s</div><div class="td r" style="left:577px;width:150px;top:482.9px">0 #/s</div><svg class="a" style="left:791.7px;top:481.59999999999997px" width="13" height="13" viewBox="0 0 13 13"><g transform="translate(8.1 4.6)" fill="#333"><rect x="-0.8" y="-3.75" width="1.6" height="1.3" transform="rotate(0)"/><rect x="-0.8" y="-3.75" width="1.6" height="1.3" transform="rotate(45)"/><rect x="-0.8" y="-3.75" width="1.6" height="1.3" transform="rotate(90)"/><rect x="-0.8" y="-3.75" width="1.6" height="1.3" transform="rotate(135)"/><rect x="-0.8" y="-3.75" width="1.6" height="1.3" transform="rotate(180)"/><rect x="-0.8" y="-3.75" width="1.6" height="1.3" transform="rotate(225)"/><rect x="-0.8" y="-3.75" width="1.6" height="1.3" transform="rotate(270)"/><rect x="-0.8" y="-3.75" width="1.6" height="1.3" transform="rotate(315)"/><circle r="2.9"/><circle r="1.55" fill="#fff"/></g><g transform="translate(2.6 9.9)" fill="#333"><rect x="-0.5" y="-2.5" width="1" height="1" transform="rotate(0)"/><rect x="-0.5" y="-2.5" width="1" height="1" transform="rotate(60)"/><rect x="-0.5" y="-2.5" width="1" height="1" transform="rotate(120)"/><rect x="-0.5" y="-2.5" width="1" height="1" transform="rotate(180)"/><rect x="-0.5" y="-2.5" width="1" height="1" transform="rotate(240)"/><rect x="-0.5" y="-2.5" width="1" height="1" transform="rotate(300)"/><circle r="1.8"/><circle r="0.75" fill="#fff"/></g></svg><div class="ul2" style="top:526.2px"></div><div class="td" style="left:57px;top:509.9px;letter-spacing:-0.07px">Collisions</div><div class="td" style="left:183px;top:509.9px">9</div><div class="td c" style="left:241px;width:100px;top:509.9px">0 #</div><div class="td c" style="left:368px;width:100px;top:509.9px">0 #/s</div><div class="td r" style="left:450px;width:150px;top:509.9px">0 #/s</div><div class="td r" style="left:577px;width:150px;top:509.9px">0 #/s</div><svg class="a" style="left:791.7px;top:508.6px" width="13" height="13" viewBox="0 0 13 13"><g transform="translate(8.1 4.6)" fill="#333"><rect x="-0.8" y="-3.75" width="1.6" height="1.3" transform="rotate(0)"/><rect x="-0.8" y="-3.75" width="1.6" height="1.3" transform="rotate(45)"/><rect x="-0.8" y="-3.75" width="1.6" height="1.3" transform="rotate(90)"/><rect x="-0.8" y="-3.75" width="1.6" height="1.3" transform="rotate(135)"/><rect x="-0.8" y="-3.75" width="1.6" height="1.3" transform="rotate(180)"/><rect x="-0.8" y="-3.75" width="1.6" height="1.3" transform="rotate(225)"/><rect x="-0.8" y="-3.75" width="1.6" height="1.3" transform="rotate(270)"/><rect x="-0.8" y="-3.75" width="1.6" height="1.3" transform="rotate(315)"/><circle r="2.9"/><circle r="1.55" fill="#fff"/></g><g transform="translate(2.6 9.9)" fill="#333"><rect x="-0.5" y="-2.5" width="1" height="1" transform="rotate(0)"/><rect x="-0.5" y="-2.5" width="1" height="1" transform="rotate(60)"/><rect x="-0.5" y="-2.5" width="1" height="1" transform="rotate(120)"/><rect x="-0.5" y="-2.5" width="1" height="1" transform="rotate(180)"/><rect x="-0.5" y="-2.5" width="1" height="1" transform="rotate(240)"/><rect x="-0.5" y="-2.5" width="1" height="1" transform="rotate(300)"/><circle r="1.8"/><circle r="0.75" fill="#fff"/></g></svg><div class="ul2" style="top:553.2px"></div><div class="td" style="left:57px;top:536.9px;letter-spacing:-0.55px">CRC Errors</div><div class="td" style="left:183px;top:536.9px">4</div><div class="td c" style="left:241px;width:100px;top:536.9px">0 #</div><div class="td c" style="left:368px;width:100px;top:536.9px">0 #/s</div><div class="td r" style="left:450px;width:150px;top:536.9px">0 #/s</div><div class="td r" style="left:577px;width:150px;top:536.9px">0 #/s</div><svg class="a" style="left:791.7px;top:535.6px" width="13" height="13" viewBox="0 0 13 13"><g transform="translate(8.1 4.6)" fill="#333"><rect x="-0.8" y="-3.75" width="1.6" height="1.3" transform="rotate(0)"/><rect x="-0.8" y="-3.75" width="1.6" height="1.3" transform="rotate(45)"/><rect x="-0.8" y="-3.75" width="1.6" height="1.3" transform="rotate(90)"/><rect x="-0.8" y="-3.75" width="1.6" height="1.3" transform="rotate(135)"/><rect x="-0.8" y="-3.75" width="1.6" height="1.3" transform="rotate(180)"/><rect x="-0.8" y="-3.75" width="1.6" height="1.3" transform="rotate(225)"/><rect x="-0.8" y="-3.75" width="1.6" height="1.3" transform="rotate(270)"/><rect x="-0.8" y="-3.75" width="1.6" height="1.3" transform="rotate(315)"/><circle r="2.9"/><circle r="1.55" fill="#fff"/></g><g transform="translate(2.6 9.9)" fill="#333"><rect x="-0.5" y="-2.5" width="1" height="1" transform="rotate(0)"/><rect x="-0.5" y="-2.5" width="1" height="1" transform="rotate(60)"/><rect x="-0.5" y="-2.5" width="1" height="1" transform="rotate(120)"/><rect x="-0.5" y="-2.5" width="1" height="1" transform="rotate(180)"/><rect x="-0.5" y="-2.5" width="1" height="1" transform="rotate(240)"/><rect x="-0.5" y="-2.5" width="1" height="1" transform="rotate(300)"/><circle r="1.8"/><circle r="0.75" fill="#fff"/></g></svg><div class="ul2" style="top:580.2px"></div><div class="td" style="left:57px;top:563.9px;letter-spacing:-0.1px">Downtime</div><div class="td" style="left:183px;top:563.9px">-4</div><div class="td c" style="left:241px;width:100px;top:563.9px"></div><div class="td c" style="left:368px;width:100px;top:563.9px"></div><div class="td r" style="left:450px;width:150px;top:563.9px"></div><div class="td r" style="left:577px;width:150px;top:563.9px"></div><svg class="a" style="left:791.7px;top:562.6px" width="13" height="13" viewBox="0 0 13 13"><g transform="translate(8.1 4.6)" fill="#333"><rect x="-0.8" y="-3.75" width="1.6" height="1.3" transform="rotate(0)"/><rect x="-0.8" y="-3.75" width="1.6" height="1.3" transform="rotate(45)"/><rect x="-0.8" y="-3.75" width="1.6" height="1.3" transform="rotate(90)"/><rect x="-0.8" y="-3.75" width="1.6" height="1.3" transform="rotate(135)"/><rect x="-0.8" y="-3.75" width="1.6" height="1.3" transform="rotate(180)"/><rect x="-0.8" y="-3.75" width="1.6" height="1.3" transform="rotate(225)"/><rect x="-0.8" y="-3.75" width="1.6" height="1.3" transform="rotate(270)"/><rect x="-0.8" y="-3.75" width="1.6" height="1.3" transform="rotate(315)"/><circle r="2.9"/><circle r="1.55" fill="#fff"/></g><g transform="translate(2.6 9.9)" fill="#333"><rect x="-0.5" y="-2.5" width="1" height="1" transform="rotate(0)"/><rect x="-0.5" y="-2.5" width="1" height="1" transform="rotate(60)"/><rect x="-0.5" y="-2.5" width="1" height="1" transform="rotate(120)"/><rect x="-0.5" y="-2.5" width="1" height="1" transform="rotate(180)"/><rect x="-0.5" y="-2.5" width="1" height="1" transform="rotate(240)"/><rect x="-0.5" y="-2.5" width="1" height="1" transform="rotate(300)"/><circle r="1.8"/><circle r="0.75" fill="#fff"/></g></svg><div class="ul2" style="top:607.2px"></div><div class="td" style="left:57px;top:590.9px;letter-spacing:-0.37px">Drop Events</div><div class="td" style="left:183px;top:590.9px">16</div><div class="td c" style="left:241px;width:100px;top:590.9px">0 #</div><div class="td c" style="left:368px;width:100px;top:590.9px">0 #/s</div><div class="td r" style="left:450px;width:150px;top:590.9px">0 #/s</div><div class="td r" style="left:577px;width:150px;top:590.9px">0 #/s</div><svg class="a" style="left:791.7px;top:589.6px" width="13" height="13" viewBox="0 0 13 13"><g transform="translate(8.1 4.6)" fill="#333"><rect x="-0.8" y="-3.75" width="1.6" height="1.3" transform="rotate(0)"/><rect x="-0.8" y="-3.75" width="1.6" height="1.3" transform="rotate(45)"/><rect x="-0.8" y="-3.75" width="1.6" height="1.3" transform="rotate(90)"/><rect x="-0.8" y="-3.75" width="1.6" height="1.3" transform="rotate(135)"/><rect x="-0.8" y="-3.75" width="1.6" height="1.3" transform="rotate(180)"/><rect x="-0.8" y="-3.75" width="1.6" height="1.3" transform="rotate(225)"/><rect x="-0.8" y="-3.75" width="1.6" height="1.3" transform="rotate(270)"/><rect x="-0.8" y="-3.75" width="1.6" height="1.3" transform="rotate(315)"/><circle r="2.9"/><circle r="1.55" fill="#fff"/></g><g transform="translate(2.6 9.9)" fill="#333"><rect x="-0.5" y="-2.5" width="1" height="1" transform="rotate(0)"/><rect x="-0.5" y="-2.5" width="1" height="1" transform="rotate(60)"/><rect x="-0.5" y="-2.5" width="1" height="1" transform="rotate(120)"/><rect x="-0.5" y="-2.5" width="1" height="1" transform="rotate(180)"/><rect x="-0.5" y="-2.5" width="1" height="1" transform="rotate(240)"/><rect x="-0.5" y="-2.5" width="1" height="1" transform="rotate(300)"/><circle r="1.8"/><circle r="0.75" fill="#fff"/></g></svg><div class="ul2" style="top:634.2px"></div><div class="td" style="left:57px;top:617.9px;letter-spacing:-0.19px">Fragments</div><div class="td" style="left:183px;top:617.9px">7</div><div class="td c" style="left:241px;width:100px;top:617.9px">0 #</div><div class="td c" style="left:368px;width:100px;top:617.9px">0 #/s</div><div class="td r" style="left:450px;width:150px;top:617.9px">0 #/s</div><div class="td r" style="left:577px;width:150px;top:617.9px">0 #/s</div><svg class="a" style="left:791.7px;top:616.6px" width="13" height="13" viewBox="0 0 13 13"><g transform="translate(8.1 4.6)" fill="#333"><rect x="-0.8" y="-3.75" width="1.6" height="1.3" transform="rotate(0)"/><rect x="-0.8" y="-3.75" width="1.6" height="1.3" transform="rotate(45)"/><rect x="-0.8" y="-3.75" width="1.6" height="1.3" transform="rotate(90)"/><rect x="-0.8" y="-3.75" width="1.6" height="1.3" transform="rotate(135)"/><rect x="-0.8" y="-3.75" width="1.6" height="1.3" transform="rotate(180)"/><rect x="-0.8" y="-3.75" width="1.6" height="1.3" transform="rotate(225)"/><rect x="-0.8" y="-3.75" width="1.6" height="1.3" transform="rotate(270)"/><rect x="-0.8" y="-3.75" width="1.6" height="1.3" transform="rotate(315)"/><circle r="2.9"/><circle r="1.55" fill="#fff"/></g><g transform="translate(2.6 9.9)" fill="#333"><rect x="-0.5" y="-2.5" width="1" height="1" transform="rotate(0)"/><rect x="-0.5" y="-2.5" width="1" height="1" transform="rotate(60)"/><rect x="-0.5" y="-2.5" width="1" height="1" transform="rotate(120)"/><rect x="-0.5" y="-2.5" width="1" height="1" transform="rotate(180)"/><rect x="-0.5" y="-2.5" width="1" height="1" transform="rotate(240)"/><rect x="-0.5" y="-2.5" width="1" height="1" transform="rotate(300)"/><circle r="1.8"/><circle r="0.75" fill="#fff"/></g></svg><div class="ul2" style="top:661.2px"></div><div class="td" style="left:57px;top:644.9px;letter-spacing:-0.15px">Jabbers</div><div class="td" style="left:183px;top:644.9px">8</div><div class="td c" style="left:241px;width:100px;top:644.9px">0 #</div><div class="td c" style="left:368px;width:100px;top:644.9px">0 #/s</div><div class="td r" style="left:450px;width:150px;top:644.9px">0 #/s</div><div class="td r" style="left:577px;width:150px;top:644.9px">0 #/s</div><svg class="a" style="left:791.7px;top:643.6px" width="13" height="13" viewBox="0 0 13 13"><g transform="translate(8.1 4.6)" fill="#333"><rect x="-0.8" y="-3.75" width="1.6" height="1.3" transform="rotate(0)"/><rect x="-0.8" y="-3.75" width="1.6" height="1.3" transform="rotate(45)"/><rect x="-0.8" y="-3.75" width="1.6" height="1.3" transform="rotate(90)"/><rect x="-0.8" y="-3.75" width="1.6" height="1.3" transform="rotate(135)"/><rect x="-0.8" y="-3.75" width="1.6" height="1.3" transform="rotate(180)"/><rect x="-0.8" y="-3.75" width="1.6" height="1.3" transform="rotate(225)"/><rect x="-0.8" y="-3.75" width="1.6" height="1.3" transform="rotate(270)"/><rect x="-0.8" y="-3.75" width="1.6" height="1.3" transform="rotate(315)"/><circle r="2.9"/><circle r="1.55" fill="#fff"/></g><g transform="translate(2.6 9.9)" fill="#333"><rect x="-0.5" y="-2.5" width="1" height="1" transform="rotate(0)"/><rect x="-0.5" y="-2.5" width="1" height="1" transform="rotate(60)"/><rect x="-0.5" y="-2.5" width="1" height="1" transform="rotate(120)"/><rect x="-0.5" y="-2.5" width="1" height="1" transform="rotate(180)"/><rect x="-0.5" y="-2.5" width="1" height="1" transform="rotate(240)"/><rect x="-0.5" y="-2.5" width="1" height="1" transform="rotate(300)"/><circle r="1.8"/><circle r="0.75" fill="#fff"/></g></svg>
</body></html>
